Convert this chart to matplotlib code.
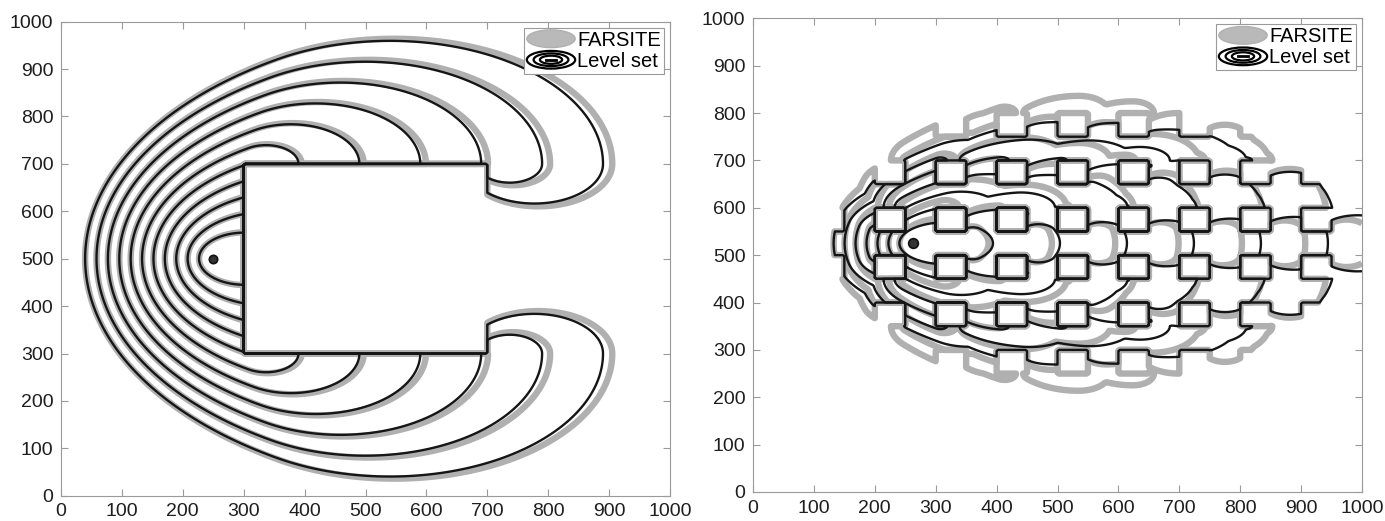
import numpy as np
import matplotlib
matplotlib.use("Agg")
import matplotlib.pyplot as plt
from matplotlib.patches import Ellipse, Patch
from matplotlib.lines import Line2D
from matplotlib.legend_handler import HandlerBase

# ---- chart values ----
# left: single rectangular barrier
LEFT_IGNITION = (250, 500)
LEFT_BLOCKS = [(300, 700, 300, 700)]          # x0, x1, y0, y1
LEFT_TIMES = [1.25, 2.25, 3.25, 4.25, 5.25, 6.25, 7.25, 8.25, 9.25, 10.25, 11.25]
LEFT_RATES_LS = [100, 44, 18.7]               # head, flank, back per time step
LEFT_RATES_FS = [102, 44.5, 18.7]

# right: lattice of square barriers
RIGHT_IGNITION = (262, 525)
RIGHT_BLOCK_X = [0, 100, 200, 300, 400, 500, 600, 700, 800, 900]
RIGHT_BLOCK_Y = [50, 150, 250, 350, 450, 550, 650, 750, 850, 950]
RIGHT_BLOCK_SIZE = 50
RIGHT_TIMES = [1.2, 2.2, 3.2, 4.2, 5.2, 6.2, 7.2]
RIGHT_RATES_LS = [110, 37, 18]
RIGHT_RATES_FS = [104, 44, 18]

TICKS = [0, 100, 200, 300, 400, 500, 600, 700, 800, 900, 1000]
GRID_STEP = 2.5

plt.rcParams["font.family"] = ["Liberation Sans", "DejaVu Sans"]


def ray_time(dx, dy, rates):
    """Time for an elliptical (Huygens) fire to cover the displacement (dx, dy)."""
    head, flank, back = rates
    a = 0.5 * (head + back)
    c = 0.5 * (head - back)
    dist = np.hypot(dx, dy)
    safe = np.where(dist > 0, dist, 1.0)
    cs, sn = dx / safe, dy / safe
    A = cs ** 2 / a ** 2 + sn ** 2 / flank ** 2
    B = -2 * c * cs / a ** 2
    C = c ** 2 / a ** 2 - 1
    speed = (-B + np.sqrt(B ** 2 - 4 * A * C)) / (2 * A)
    return np.where(dist > 0, dist / speed, 0.0)


def blocked(px, py, qx, qy, blocks):
    """True where the segment p-q cuts through the inside of a barrier."""
    dx, dy = qx - px, qy - py
    shape = np.broadcast(px, py, qx, qy).shape
    length = np.hypot(dx, dy)
    hit = np.zeros(shape, bool)
    for x0, x1, y0, y1 in blocks:
        t_lo = np.zeros(shape)
        t_hi = np.ones(shape)
        for p, d, lo, hi in ((px, dx, x0, x1), (py, dy, y0, y1)):
            with np.errstate(divide="ignore", invalid="ignore"):
                ta, tb = (lo - p) / d, (hi - p) / d
            inner = (p > lo) & (p < hi)
            t_lo = np.maximum(t_lo, np.where(d != 0, np.minimum(ta, tb),
                                             np.where(inner, -np.inf, np.inf)))
            t_hi = np.minimum(t_hi, np.where(d != 0, np.maximum(ta, tb),
                                             np.where(inner, np.inf, -np.inf)))
        hit |= (t_hi - t_lo) * length > 1e-6
    return hit


def geometry(ignition, blocks):
    coords = np.arange(0, 1000 + GRID_STEP / 2, GRID_STEP)
    X, Y = np.meshgrid(coords, coords)
    inside = np.zeros(X.shape, bool)
    for x0, x1, y0, y1 in blocks:
        inside |= (X > x0) & (X < x1) & (Y > y0) & (Y < y1)
    nodes = np.array([ignition] + [(x, y) for x0, x1, y0, y1 in blocks
                                   for x in (x0, x1) for y in (y0, y1)], float)
    nx_, ny_ = nodes[:, 0], nodes[:, 1]
    vis = ~blocked(nx_[:, None], ny_[:, None], nx_[None, :], ny_[None, :], blocks)
    return dict(coords=coords, X=X, Y=Y, inside=inside, nodes=nodes, vis=vis,
                blocks=blocks)


def travel_time(geo, rates, times):
    head, flank, back = rates
    tcut = max(times) + 1.0
    nodes, X, Y, coords = geo["nodes"], geo["X"], geo["Y"], geo["coords"]
    nx_, ny_ = nodes[:, 0], nodes[:, 1]
    W = np.where(geo["vis"], ray_time(nx_[None, :] - nx_[:, None],
                                      ny_[None, :] - ny_[:, None], rates), np.inf)
    # shortest times to the ignition point and the barrier corners
    n = len(nodes)
    Tn = np.full(n, np.inf)
    Tn[0] = 0.0
    done = np.zeros(n, bool)
    for _ in range(n):
        cur = np.where(done, np.inf, Tn)
        i = int(np.argmin(cur))
        if not np.isfinite(cur[i]) or cur[i] > tcut:
            break
        done[i] = True
        Tn = np.minimum(Tn, Tn[i] + W[i])

    # arrival time on the grid from every visible corner
    T = np.full(X.shape, np.inf)
    for i in np.argsort(Tn):
        budget = tcut - Tn[i]
        if budget <= 0:
            break
        vx, vy = nodes[i]
        ia, ib = np.searchsorted(coords, [vx - back * budget, vx + head * budget])
        ja, jb = np.searchsorted(coords, [vy - flank * budget, vy + flank * budget])
        sub = (slice(ja, jb + 1), slice(ia, ib + 1))
        Xs, Ys, Ts = X[sub], Y[sub], T[sub]
        tau = Tn[i] + ray_time(Xs - vx, Ys - vy, rates)
        cand = (tau < Ts) & (tau <= tcut) & ~geo["inside"][sub]
        if not cand.any():
            continue
        px, py = Xs[cand], Ys[cand]
        xl, xh = min(px.min(), vx), max(px.max(), vx)
        yl, yh = min(py.min(), vy), max(py.max(), vy)
        near = [b for b in geo["blocks"]
                if b[1] >= xl and b[0] <= xh and b[3] >= yl and b[2] <= yh]
        ok = ~blocked(px, py, vx, vy, near) if near else np.ones(px.shape, bool)
        Ts[cand] = np.where(ok, tau[cand], Ts[cand])
    return coords, np.where(np.isfinite(T), T, 1e3)


class EllipseHandler(HandlerBase):
    def __init__(self, rings):
        super().__init__()
        self.rings = rings

    def create_artists(self, legend, orig_handle, xdescent, ydescent,
                       width, height, fontsize, trans):
        cx = 0.5 * width - xdescent
        cy = 0.5 * height - ydescent
        if not self.rings:
            return [Ellipse((cx, cy), width, height * 1.2, facecolor="#b9b9b9",
                            edgecolor="#b0b0b0", transform=trans)]
        arts = [Ellipse((cx, cy), width * f, height * f * 1.2, fill=False,
                        edgecolor="k", lw=1.6, transform=trans)
                for f in (1.0, 0.72, 0.46)]
        arts.append(Line2D([cx - width * 0.1, cx + width * 0.1], [cy, cy],
                           color="k", lw=2, transform=trans))
        return arts


def style_axes(ax):
    ax.set_xlim(0, 1000)
    ax.set_ylim(0, 1000)
    ax.set_xticks(TICKS)
    ax.set_yticks(TICKS)
    ax.tick_params(direction="in", top=True, right=True, length=5, width=0.8,
                   color="#9a9a9a", labelsize=14, labelcolor="#1e1e1e", pad=5.5)
    for s in ax.spines.values():
        s.set_color("#9a9a9a")
        s.set_linewidth(0.8)
    h_fs = Patch(label="FARSITE")
    h_ls = Patch(label="Level set")
    leg = ax.legend(handles=[h_fs, h_ls],
                    handler_map={h_fs: EllipseHandler(False), h_ls: EllipseHandler(True)},
                    loc="upper right", fontsize=14.5, handlelength=2.4, handleheight=0.75,
                    handletextpad=0.1, labelspacing=0.1, borderpad=0.15,
                    borderaxespad=0.3, fancybox=False, edgecolor="#9a9a9a",
                    framealpha=1)
    leg.get_frame().set_linewidth(0.8)


def draw_panel(ax, ignition, blocks, times, rates_fs, rates_ls, ms):
    geo = geometry(ignition, blocks)
    coords, t_fs = travel_time(geo, rates_fs, times)
    ax.contour(coords, coords, t_fs, levels=times, colors="#b0b0b0",
               linewidths=4.6, zorder=1)
    coords, t_ls = travel_time(geo, rates_ls, times)
    ax.contour(coords, coords, t_ls, levels=times, colors="#151515",
               linewidths=1.7, zorder=2)
    ax.plot(*ignition, marker="o", ms=ms, mfc="#333333", mec="#111111",
            mew=1.2, zorder=3)
    style_axes(ax)


fig = plt.figure(figsize=(13.85, 5.21), dpi=100)
ax_left = fig.add_axes([61 / 1385, 1 - 495.7 / 521, 609 / 1385, 474 / 521])
ax_right = fig.add_axes([753 / 1385, 1 - 492 / 521, 609 / 1385, 473.7 / 521])

right_blocks = [(x, x + RIGHT_BLOCK_SIZE, y, y + RIGHT_BLOCK_SIZE)
                for x in RIGHT_BLOCK_X for y in RIGHT_BLOCK_Y]

draw_panel(ax_left, LEFT_IGNITION, LEFT_BLOCKS, LEFT_TIMES,
           LEFT_RATES_FS, LEFT_RATES_LS, 6)
draw_panel(ax_right, RIGHT_IGNITION, right_blocks, RIGHT_TIMES,
           RIGHT_RATES_FS, RIGHT_RATES_LS, 7)

fig.savefig("out.png", dpi=100)
